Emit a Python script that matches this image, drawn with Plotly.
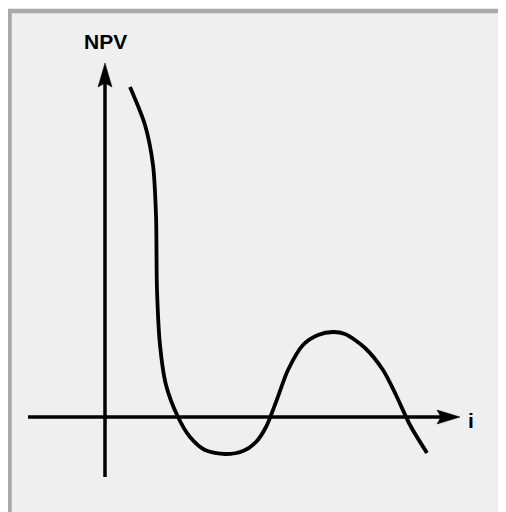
import plotly.graph_objects as go

# NPV profile: interest rate i vs net present value (sketch units)
i_values = [2.5, 4.0, 4.8, 5.1, 5.2, 5.5, 6.1, 7.3, 8.5, 10.0, 12.0, 13.8, 15.1, 16.1,
            17.1, 18.3, 19.8, 21.3, 22.8, 24.0, 26.0, 27.8, 29.1, 30.5, 32.2]
npv_values = [33.0, 29.2, 25.2, 20.2, 12.7, 7.2, 3.2, 0.0, -2.0, -3.3, -3.7, -3.4, -2.5, -1.0,
              1.5, 4.7, 7.2, 8.2, 8.5, 8.3, 6.9, 4.7, 2.2, -0.8, -3.6]

axis_x_label = "i"
axis_y_label = "NPV"

fig = go.Figure()

fig.add_trace(go.Scatter(
    x=i_values, y=npv_values, mode="lines",
    line=dict(color="black", width=3.8, shape="spline", smoothing=0.8),
    hoverinfo="skip", showlegend=False
))

shapes = [
    # panel with grey frame (right and bottom edges run off the picture)
    dict(type="rect", xref="x", yref="y", x0=-9.55, y0=40.6, x1=45, y1=-15,
         fillcolor="#efefef", line=dict(color="#a9a9a9", width=4.5), layer="below"),
    # vertical axis
    dict(type="line", xref="x", yref="y", x0=0, y0=-6, x1=0, y1=33.6,
         line=dict(color="black", width=3.5)),
    dict(type="path", xref="x", yref="y", path="M 0,35.4 L 0.7,33.0 L 0,33.4 L -0.7,33.0 Z",
         fillcolor="black", line=dict(color="black", width=0.5)),
    # horizontal axis
    dict(type="line", xref="x", yref="y", x0=-7.7, y0=0, x1=33.6, y1=0,
         line=dict(color="black", width=3.5)),
    dict(type="path", xref="x", yref="y", path="M 35.5,0 L 33.2,0.7 L 33.6,0 L 33.2,-0.7 Z",
         fillcolor="black", line=dict(color="black", width=0.5)),
]

annotations = [
    dict(x=0, y=37.6, xref="x", yref="y", text="<b>" + axis_y_label + "</b>", showarrow=False,
         font=dict(family="Liberation Sans", size=21, color="black")),
    dict(x=36.1, y=-0.3, xref="x", yref="y", text="<b>" + axis_x_label + "</b>", showarrow=False,
         xanchor="left", font=dict(family="Liberation Sans", size=21, color="black")),
]

# the page adds an 8px body margin, so the origin sits at (97, 409) inside the figure
fig.update_layout(
    width=506, height=512,
    margin=dict(l=0, r=0, t=0, b=0),
    paper_bgcolor="white", plot_bgcolor="white",
    xaxis=dict(range=[-9.7, 40.9], visible=False, fixedrange=True),
    yaxis=dict(range=[-10.3, 40.9], visible=False, fixedrange=True),
    shapes=shapes, annotations=annotations,
    showlegend=False
)

fig.write_html("out.html")
